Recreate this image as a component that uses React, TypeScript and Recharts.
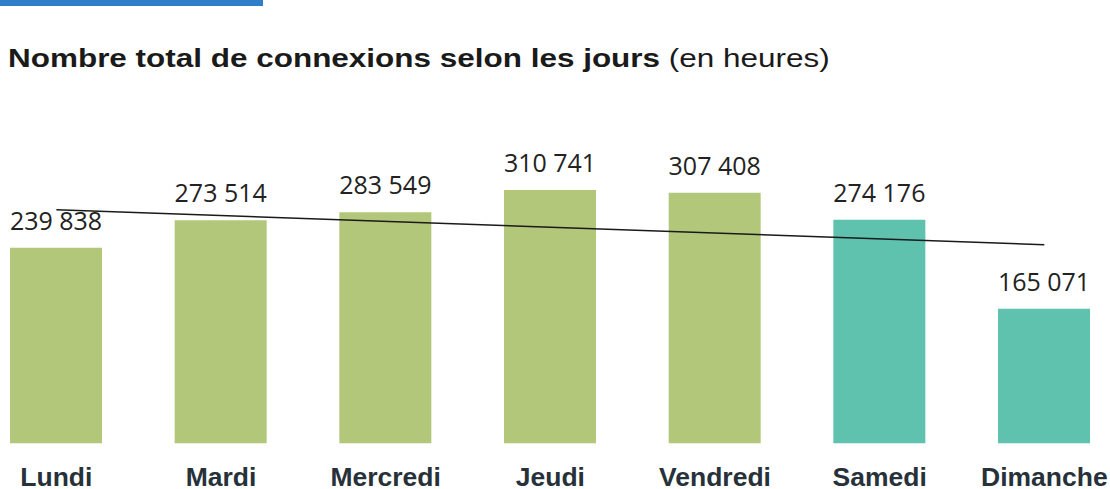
import React from 'react';
import { ComposedChart, Bar, Line, XAxis, YAxis, LabelList, Cell } from 'recharts';

// values (hours)
const days = ['Lundi', 'Mardi', 'Mercredi', 'Jeudi', 'Vendredi', 'Samedi', 'Dimanche'];
const hours = [239838, 273514, 283549, 310741, 307408, 274176, 165071];
// trend line end points (only first and last day)
const trend = [286500, null, null, null, null, null, 243500];
const weekend = ['Samedi', 'Dimanche'];

const GREEN = '#B2C77A';
const TEAL = '#5EC2AE';

const data = days.map((day, i) => ({ day, hours: hours[i], trend: trend[i] }));

const fmt = (v: number) => String(v).replace(/\B(?=(\d{3})+(?!\d))/g, ' ');

const DayTick = (props: any) => {
  const { x, y, payload } = props;
  return (
    <text
      x={x}
      y={y}
      dy={35}
      textAnchor="middle"
      fontFamily="'Liberation Sans', Arial, sans-serif"
      fontWeight="bold"
      fontSize={26.5}
      fill="#27313A"
    >
      {payload.value}
    </text>
  );
};

export default function App() {
  return (
    <div
      style={{
        position: 'absolute',
        left: 0,
        top: 0,
        width: 1110,
        height: 489,
        overflow: 'hidden',
        background: '#fff',
      }}
    >
      <div style={{ position: 'absolute', left: 0, top: 0, width: 263, height: 6, background: '#2F7EC7' }} />
      <div
        style={{
          position: 'absolute',
          left: 8,
          top: 44.7,
          fontFamily: "'Liberation Sans', Arial, sans-serif",
          fontSize: 26,
          lineHeight: '26px',
          color: '#1A1A1A',
          whiteSpace: 'nowrap',
          transform: 'scaleX(1.21)',
          transformOrigin: 'left top',
        }}
      >
        <span style={{ fontWeight: 'bold' }}>Nombre total de connexions selon les jours</span> (en heures)
      </div>
      <div style={{ position: 'absolute', left: -26.33, top: 0 }}>
        <ComposedChart
          width={1152.7}
          height={489}
          data={data}
          margin={{ top: 117.2, right: 0, bottom: 5.7, left: 0 }}
        >
          <XAxis
            dataKey="day"
            axisLine={false}
            tickLine={false}
            height={40}
            interval={0}
            tick={<DayTick />}
          />
          <YAxis hide domain={[0, 400000]} />
          <Bar dataKey="hours" barSize={92} isAnimationActive={false}>
            {data.map((d) => (
              <Cell key={d.day} fill={weekend.includes(d.day) ? TEAL : GREEN} />
            ))}
            <LabelList
              dataKey="hours"
              position="top"
              offset={18}
              formatter={(v: any) => fmt(v)}
              fill="#222222"
              fontSize={25}
              fontFamily="'Open Sans', sans-serif"
            />
          </Bar>
          <Line
            dataKey="trend"
            type="linear"
            connectNulls
            stroke="#1A1A1A"
            strokeWidth={1.5}
            dot={false}
            activeDot={false}
            isAnimationActive={false}
          />
        </ComposedChart>
      </div>
    </div>
  );
}
